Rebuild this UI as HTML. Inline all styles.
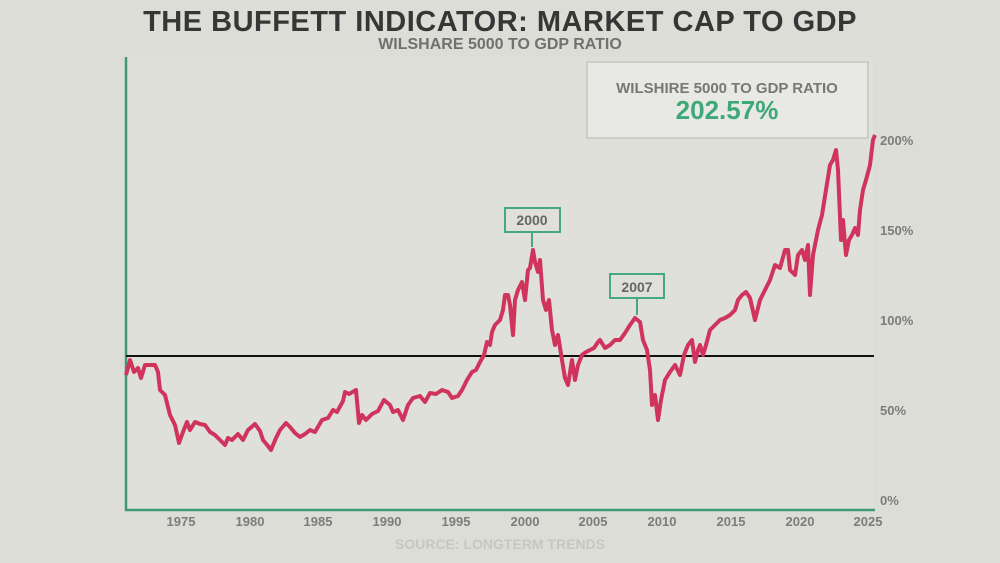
<!DOCTYPE html>
<html><head><meta charset="utf-8"><style>
html,body{margin:0;padding:0;}
body{width:1000px;height:563px;background:#dcddd7;overflow:hidden;position:relative;font-family:"Liberation Sans Narrow","Liberation Sans",sans-serif;}
.t{position:absolute;left:0;width:1000px;text-align:center;font-weight:bold;}
</style></head><body>
<div class="t" style="top:6px;font-size:29px;color:#363636;letter-spacing:0.5px;">THE BUFFETT INDICATOR: MARKET CAP TO GDP</div>
<div class="t" style="top:36px;font-size:16px;color:#707070;">WILSHARE 5000 TO GDP RATIO</div>
<svg width="1000" height="563" style="position:absolute;left:0;top:0" font-family="Liberation Sans, sans-serif" font-weight="bold">
<rect x="127" y="57" width="746" height="452" fill="#dfe0da"/>
<line x1="126" y1="57" x2="126" y2="511" stroke="#3f9a72" stroke-width="2.5"/>
<line x1="125" y1="510" x2="875" y2="510" stroke="#3f9a72" stroke-width="2.5"/>
<line x1="126" y1="356" x2="874" y2="356" stroke="#111" stroke-width="2"/>
<rect x="587" y="62" width="281" height="76" fill="#e8e9e4" stroke="#c4c5c0" stroke-width="1.5"/>
<text x="727" y="93" text-anchor="middle" font-size="15" fill="#777">WILSHIRE 5000 TO GDP RATIO</text>
<text x="727" y="119" text-anchor="middle" font-size="26" fill="#3fa878">202.57%</text>
<g font-size="13" fill="#7c7c7c">
<text x="880" y="505">0%</text><text x="880" y="415">50%</text><text x="880" y="325">100%</text><text x="880" y="235">150%</text><text x="880" y="145">200%</text>
</g>
<g font-size="13" fill="#7c7c7c" text-anchor="middle">
<text x="181" y="526">1975</text><text x="250" y="526">1980</text><text x="318" y="526">1985</text><text x="387" y="526">1990</text><text x="456" y="526">1995</text><text x="525" y="526">2000</text><text x="593" y="526">2005</text><text x="662" y="526">2010</text><text x="731" y="526">2015</text><text x="800" y="526">2020</text><text x="868" y="526">2025</text>
</g>
<text x="500" y="549" text-anchor="middle" font-size="14" fill="#c6c7c2">SOURCE: LONGTERM TRENDS</text>
<rect x="505" y="208" width="55" height="24" fill="none" stroke="#45a880" stroke-width="2"/>
<text x="532" y="225" text-anchor="middle" font-size="14" fill="#666">2000</text>
<line x1="532" y1="232" x2="532" y2="247" stroke="#45a880" stroke-width="2"/>
<rect x="610" y="274" width="54" height="24" fill="none" stroke="#45a880" stroke-width="2"/>
<text x="637" y="292" text-anchor="middle" font-size="14" fill="#666">2007</text>
<line x1="637" y1="298" x2="637" y2="315" stroke="#45a880" stroke-width="2"/>
<polyline fill="none" stroke="#d0345c" stroke-width="4" stroke-linejoin="round" points="126,375 130,360 134,372 138,368 141,378 145,365 150,365 155,365 158,372 160,390 165,395 170,415 175,425 179,443 183,432 187,422 190,430 195,422 200,424 205,425 210,432 215,435 220,440 225,445 228,438 232,440 238,434 243,440 248,430 255,424 260,431 263,440 268,446 271,450 276,438 280,430 286,423 290,427 295,433 300,437 305,434 310,430 315,432 322,420 328,418 333,410 337,412 343,401 345,392 349,394 356,390 359,423 362,415 366,420 372,414 378,411 384,400 390,405 393,412 398,410 403,420 408,405 413,398 420,396 425,402 430,393 436,394 442,390 448,392 452,398 458,396 462,390 467,380 472,372 476,370 480,362 484,355 487,342 490,345 492,332 495,325 500,320 503,310 505,295 508,295 510,305 513,335 515,300 518,290 522,282 525,300 528,270 530,268 533,250 535,262 538,272 540,260 543,300 546,310 549,300 552,330 555,345 558,335 562,360 565,378 568,385 572,360 575,380 578,365 582,355 586,352 590,350 594,348 598,342 600,340 605,348 610,345 615,340 620,340 625,333 630,325 635,318 640,322 643,340 647,350 650,370 652,405 655,395 658,420 661,400 665,380 670,372 675,365 680,375 684,355 688,345 692,340 695,362 698,350 700,345 703,355 706,345 710,330 715,325 720,320 725,318 730,315 735,310 738,300 742,295 746,292 750,298 755,320 760,300 765,290 770,280 775,265 780,268 785,250 788,250 790,270 795,275 798,255 802,250 805,260 808,245 810,295 813,255 818,230 822,215 826,190 830,165 833,160 836,150 838,170 841,240 843,220 846,255 849,240 852,235 855,228 858,235 860,210 863,190 866,180 870,165 873,140 875,135"/>
</svg>
</body></html>
